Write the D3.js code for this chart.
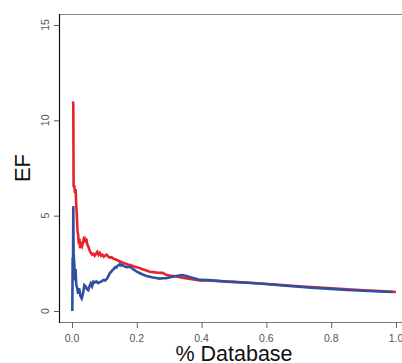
<!DOCTYPE html>
<html>
<head>
<meta charset="utf-8">
<script src="https://cdn.jsdelivr.net/npm/d3@7"></script>
<style>
  body { margin: 0; background: #fff; }
  svg { display: block; font-family: "Liberation Sans", Arial, sans-serif; }
</style>
</head>
<body>
<svg id="chart" width="402" height="363"></svg>
<script>
// fraction of database screened
let redX = [0.003, 0.004, 0.005, 0.007, 0.009, 0.011, 0.013, 0.015, 0.017, 0.019, 0.021, 0.023, 0.025, 0.028, 0.031, 0.035, 0.038, 0.041, 0.044, 0.047, 0.050, 0.054, 0.058, 0.062, 0.066, 0.070, 0.074, 0.078, 0.082, 0.086, 0.090, 0.094, 0.098, 0.102, 0.107, 0.112, 0.117, 0.122, 0.127, 0.133, 0.140, 0.148, 0.156, 0.164, 0.172, 0.180, 0.190, 0.200, 0.210, 0.220, 0.230, 0.240, 0.250, 0.265, 0.280, 0.290, 0.300, 0.320, 0.340, 0.355, 0.375, 0.395, 0.420, 0.450, 0.480, 0.500, 0.550, 0.600, 0.650, 0.700, 0.750, 0.800, 0.850, 0.900, 0.950, 1.000];
let redEF = [11.0, 10.8, 6.5, 6.6, 6.2, 6.4, 5.6, 5.0, 4.2, 4.0, 3.5, 3.8, 3.3, 3.5, 3.4, 3.7, 3.9, 3.6, 3.8, 3.5, 3.4, 3.2, 3.05, 2.95, 3.0, 2.9, 3.0, 3.1, 2.95, 3.05, 2.9, 2.95, 2.85, 2.9, 2.95, 2.85, 2.8, 2.82, 2.75, 2.72, 2.66, 2.6, 2.55, 2.5, 2.44, 2.41, 2.35, 2.3, 2.24, 2.18, 2.12, 2.06, 2.04, 2.01, 2.0, 1.9, 1.86, 1.82, 1.75, 1.7, 1.65, 1.6, 1.6, 1.57, 1.55, 1.53, 1.48, 1.42, 1.36, 1.3, 1.24, 1.19, 1.14, 1.09, 1.05, 1.0];

let blueX = [0.001, 0.002, 0.003, 0.004, 0.005, 0.007, 0.009, 0.011, 0.013, 0.016, 0.019, 0.022, 0.026, 0.030, 0.034, 0.038, 0.042, 0.046, 0.050, 0.054, 0.058, 0.062, 0.066, 0.070, 0.075, 0.081, 0.086, 0.092, 0.097, 0.102, 0.108, 0.113, 0.117, 0.121, 0.125, 0.129, 0.133, 0.137, 0.141, 0.145, 0.148, 0.152, 0.156, 0.160, 0.164, 0.170, 0.179, 0.190, 0.200, 0.210, 0.220, 0.230, 0.240, 0.250, 0.260, 0.270, 0.280, 0.290, 0.300, 0.310, 0.320, 0.330, 0.340, 0.350, 0.360, 0.370, 0.385, 0.395, 0.420, 0.450, 0.477, 0.500, 0.540, 0.600, 0.650, 0.700, 0.750, 0.800, 0.850, 0.900, 0.950, 0.990];
let blueEF = [0.0, 2.8, 1.8, 5.5, 3.0, 2.5, 1.6, 2.2, 1.4, 1.2, 0.9, 1.2, 0.8, 0.66, 0.9, 1.36, 1.3, 1.15, 1.1, 1.3, 1.45, 1.3, 1.54, 1.5, 1.55, 1.46, 1.52, 1.55, 1.63, 1.6, 1.7, 1.85, 2.0, 2.05, 2.15, 2.2, 2.3, 2.28, 2.38, 2.4, 2.46, 2.38, 2.42, 2.36, 2.32, 2.3, 2.32, 2.18, 2.06, 1.98, 1.9, 1.84, 1.8, 1.76, 1.73, 1.7, 1.72, 1.72, 1.76, 1.8, 1.82, 1.86, 1.89, 1.85, 1.8, 1.75, 1.68, 1.63, 1.62, 1.58, 1.54, 1.52, 1.48, 1.42, 1.34, 1.27, 1.21, 1.16, 1.1, 1.06, 1.02, 1.0];

let xTicks = [0, 0.2, 0.4, 0.6, 0.8, 1.0];
let yTicks = [0, 5, 10, 15];

let svg = d3.select('#chart');
let x = d3.scaleLinear().domain([0, 1]).range([72, 396]);
let y = d3.scaleLinear().domain([0, 15]).range([311, 25]);
let frameLeft = 59, frameTop = 14, frameBottom = 322, frameRight = 402;

// frame
svg.append('line').attr('x1', frameLeft).attr('x2', frameRight).attr('y1', frameTop + 0.5).attr('y2', frameTop + 0.5)
    .attr('stroke', '#888').attr('stroke-width', 1.2);
svg.append('line').attr('x1', frameLeft).attr('x2', frameRight).attr('y1', frameBottom + 0.5).attr('y2', frameBottom + 0.5)
    .attr('stroke', '#777').attr('stroke-width', 1.2);
svg.append('line').attr('x1', frameLeft + 0.5).attr('x2', frameLeft + 0.5).attr('y1', frameTop).attr('y2', frameBottom + 1)
    .attr('stroke', '#111').attr('stroke-width', 1.2);

// y axis ticks
let yAxis = svg.append('g');
yTicks.forEach(function(t) {
    yAxis.append('line').attr('x1', frameLeft - 5).attr('x2', frameLeft).attr('y1', y(t) + 0.5).attr('y2', y(t) + 0.5)
        .attr('stroke', '#555').attr('stroke-width', 1);
    yAxis.append('text').attr('transform', 'translate(48.5,' + y(t) + ') rotate(-90)')
        .attr('text-anchor', 'middle').attr('font-size', 10.5).attr('fill', '#555').text(t);
});

// x axis ticks
let xAxis = svg.append('g');
xTicks.forEach(function(t) {
    xAxis.append('line').attr('x1', x(t) + 0.5).attr('x2', x(t) + 0.5).attr('y1', frameBottom).attr('y2', frameBottom + 6)
        .attr('stroke', '#666').attr('stroke-width', 1);
    xAxis.append('text').attr('x', x(t)).attr('y', 341.5)
        .attr('text-anchor', 'middle').attr('font-size', 10.5).attr('fill', '#555').text(d3.format('.1f')(t));
});

// titles
svg.append('text').attr('x', (x(0) + x(1)) / 2).attr('y', 360.5).attr('text-anchor', 'middle')
    .attr('font-size', 21.5).attr('fill', '#111').text('% Database');
svg.append('text').attr('transform', 'translate(30,168) rotate(-90)').attr('text-anchor', 'middle')
    .attr('font-size', 22).attr('fill', '#111').text('EF');

// curves
let line = d3.line()
    .x(function(d) { return x(d[0]); })
    .y(function(d) { return y(d[1]); });

svg.append('path').datum(d3.zip(redX, redEF))
    .attr('fill', 'none').attr('stroke', '#e8232a').attr('stroke-width', 2.6).attr('d', line);
svg.append('path').datum(d3.zip(blueX, blueEF))
    .attr('fill', 'none').attr('stroke', '#2f50a2').attr('stroke-width', 2.6).attr('d', line);
</script>
</body>
</html>
